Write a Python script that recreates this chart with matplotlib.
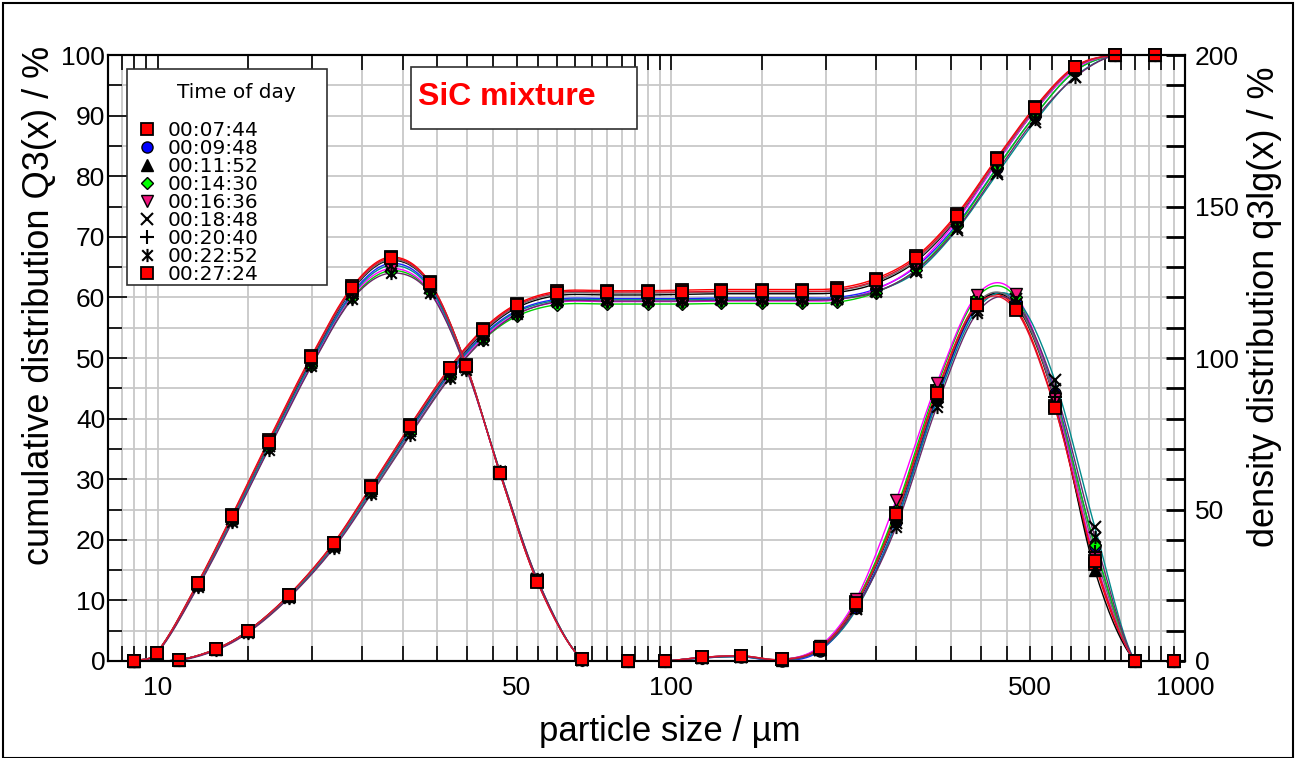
import numpy as np
import matplotlib
matplotlib.use("Agg")
import matplotlib.pyplot as plt
from matplotlib.path import Path
from matplotlib.patches import Rectangle
from matplotlib.lines import Line2D

plt.rcParams['font.family'] = ['Liberation Sans', 'DejaVu Sans']

# ---------------- data ----------------
# class upper limits (cumulative) and class centres (density), µm
x_cum = [9, 11, 13, 15, 18, 22, 26, 31, 37, 43, 50, 60, 75, 90, 105, 125, 150,
         180, 210, 250, 300, 360, 430, 510, 610, 730, 875]
x_dens = [9.0, 9.95, 11.96, 13.96, 16.43, 19.90, 23.92, 28.39, 33.87, 39.89, 46.37,
          54.77, 67.08, 82.16, 97.21, 114.6, 136.9, 164.3, 194.4, 229.1, 273.9,
          328.6, 393.4, 468.3, 557.8, 667.3, 799.2, 953.0]

times = ["00:07:44", "00:09:48", "00:11:52", "00:14:30", "00:16:36",
         "00:18:48", "00:20:40", "00:22:52", "00:27:24"]

Q3_0744 = [0.0, 0.2, 2.0, 5.0, 10.9, 19.5, 28.8, 38.9, 48.4, 54.8, 58.9, 61.0, 61.1, 61.1, 61.2, 61.3, 61.3, 61.3, 61.5, 63.1, 66.8, 73.8, 83.0, 91.4, 98.1, 100.0, 100.0]
Q3_0948 = [0.0, 0.2, 1.9, 4.9, 10.7, 19.1, 28.3, 38.2, 47.6, 53.8, 57.8, 59.7, 59.8, 59.8, 59.8, 59.9, 59.9, 59.9, 60.0, 61.4, 65.1, 72.1, 81.4, 90.0, 97.3, 100.0, 100.0]
Q3_1152 = [0.0, 0.2, 2.0, 5.0, 10.8, 19.3, 28.5, 38.5, 47.9, 54.2, 58.3, 60.3, 60.4, 60.4, 60.5, 60.6, 60.6, 60.6, 60.8, 62.3, 66.0, 73.0, 82.3, 90.8, 97.8, 100.0, 100.0]
Q3_1430 = [0.0, 0.2, 1.9, 4.8, 10.5, 18.8, 27.8, 37.6, 46.9, 53.0, 56.9, 58.8, 58.9, 58.9, 58.9, 59.0, 59.0, 59.0, 59.2, 60.8, 64.6, 71.8, 81.3, 90.0, 97.3, 100.0, 100.0]
Q3_1636 = [0.0, 0.2, 1.9, 4.8, 10.6, 18.9, 28.0, 37.8, 47.2, 53.3, 57.3, 59.2, 59.3, 59.3, 59.3, 59.4, 59.4, 59.4, 59.6, 61.3, 65.3, 72.7, 82.2, 90.8, 97.7, 100.0, 100.0]
Q3_1848 = [0.0, 0.2, 1.9, 4.9, 10.6, 19.0, 28.1, 38.0, 47.4, 53.6, 57.6, 59.5, 59.6, 59.6, 59.6, 59.7, 59.7, 59.7, 59.8, 61.0, 64.2, 71.2, 80.3, 89.0, 96.4, 100.0, 100.0]
Q3_2040 = [0.0, 0.2, 2.0, 5.0, 10.8, 19.3, 28.5, 38.6, 48.0, 54.4, 58.5, 60.6, 60.7, 60.7, 60.8, 60.9, 60.9, 60.9, 61.1, 62.6, 66.2, 73.2, 82.5, 91.0, 97.9, 100.0, 100.0]
Q3_2252 = [0.0, 0.1, 1.8, 4.7, 10.4, 18.6, 27.5, 37.3, 46.7, 53.0, 57.2, 59.3, 59.4, 59.4, 59.4, 59.5, 59.5, 59.5, 59.7, 60.9, 64.5, 71.4, 80.7, 89.4, 96.3, 100.0, 100.0]
Q3_2724 = [0.0, 0.2, 2.0, 5.0, 10.9, 19.4, 28.7, 38.8, 48.3, 54.6, 58.7, 60.8, 60.9, 60.9, 60.9, 61.0, 61.0, 61.0, 61.2, 62.8, 66.5, 73.5, 82.8, 91.2, 98.0, 100.0, 100.0]

q3_0744 = [0, 2.8, 25.8, 48.2, 72.8, 100.6, 123.6, 133.3, 125.0, 97.6, 62.0, 26.3, 0.5, 0.0, 0.0, 1.2, 1.7, 0.5, 4.4, 19.5, 49.0, 89.0, 118.0, 116.5, 84.0, 32.0, 0.0, 0.0]
q3_0948 = [0, 2.6, 25.0, 47.0, 71.2, 98.8, 121.5, 131.2, 123.5, 97.0, 62.2, 26.8, 0.4, 0.0, 0.0, 1.0, 1.4, 0.0, 3.3, 17.5, 46.0, 86.5, 117.0, 118.5, 88.5, 38.0, 0.0, 0.0]
q3_1152 = [0, 2.7, 25.4, 47.5, 71.8, 99.6, 122.5, 132.2, 124.3, 97.4, 62.0, 26.5, 0.5, 0.0, 0.0, 1.2, 1.6, 0.4, 4.0, 18.5, 47.5, 87.5, 117.5, 117.5, 86.0, 30.0, 0.0, 0.0]
q3_1430 = [0, 2.5, 24.6, 46.2, 70.2, 97.5, 119.8, 128.8, 121.8, 96.5, 62.5, 27.0, 0.5, 0.0, 0.0, 1.1, 1.5, 0.5, 4.5, 19.5, 50.0, 90.5, 120.0, 120.0, 87.5, 38.3, 0.0, 0.0]
q3_1636 = [0, 2.6, 24.8, 46.5, 70.6, 98.0, 120.5, 129.5, 122.2, 96.6, 62.2, 26.6, 0.5, 0.0, 0.0, 1.2, 1.6, 0.5, 4.8, 20.5, 53.1, 91.6, 120.8, 121.0, 86.5, 34.0, 0.0, 0.0]
q3_1848 = [0, 2.6, 25.0, 46.8, 71.0, 98.5, 121.0, 130.5, 123.0, 97.0, 62.5, 27.0, 0.4, 0.0, 0.0, 1.0, 1.4, 0.2, 3.6, 17.0, 45.5, 85.5, 116.0, 119.5, 92.7, 44.3, 0.0, 0.0]
q3_2040 = [0, 2.7, 25.5, 47.7, 72.1, 99.9, 122.8, 132.5, 124.5, 97.5, 62.0, 26.4, 0.5, 0.0, 0.0, 1.2, 1.7, 0.5, 4.2, 18.8, 48.0, 88.0, 118.0, 118.0, 87.0, 36.0, 0.0, 0.0]
q3_2252 = [0, 2.4, 24.3, 45.8, 69.8, 97.2, 119.5, 128.0, 121.5, 96.2, 62.6, 27.2, 0.4, 0.0, 0.0, 1.0, 1.5, 0.3, 3.8, 17.5, 44.3, 83.9, 114.8, 118.0, 90.0, 41.0, 0.0, 0.0]
q3_2724 = [0, 2.7, 25.6, 47.9, 72.4, 100.2, 123.2, 132.9, 124.7, 97.4, 61.9, 26.2, 0.5, 0.0, 0.0, 1.2, 1.7, 0.5, 4.2, 19.0, 48.4, 88.5, 117.5, 115.8, 83.6, 33.1, 0.0, 0.0]

Q3_all = [Q3_0744, Q3_0948, Q3_1152, Q3_1430, Q3_1636, Q3_1848, Q3_2040, Q3_2252, Q3_2724]
q3_all = [q3_0744, q3_0948, q3_1152, q3_1430, q3_1636, q3_1848, q3_2040, q3_2252, q3_2724]

# ---------------- styles ----------------
star_path = Path([(-1, -1), (1, 1), (-1, 1), (1, -1), (0, -1.25), (0, 1.25)],
                 [Path.MOVETO, Path.LINETO, Path.MOVETO, Path.LINETO, Path.MOVETO, Path.LINETO])
styles = [
    dict(marker='s', mfc='#ff0000', mec='black', ms=8.0, mew=1.3, line='#ff0000'),
    dict(marker='o', mfc='#0000ff', mec='black', ms=8.0, mew=1.0, line='#2020ff'),
    dict(marker='^', mfc='black', mec='black', ms=8.5, mew=1.0, line='#000000'),
    dict(marker='D', mfc='#00ff00', mec='black', ms=6.5, mew=1.0, line='#00d000'),
    dict(marker='v', mfc='#f0147c', mec='black', ms=8.5, mew=1.0, line='#ff00ff'),
    dict(marker='x', mfc='black', mec='black', ms=9.0, mew=1.5, line='#008b8b'),
    dict(marker='+', mfc='black', mec='black', ms=10.0, mew=1.5, line='#707070'),
    dict(marker=star_path, mfc='black', mec='black', ms=9.5, mew=1.5, line='#6a2a6a'),
    dict(marker='s', mfc='#ff0000', mec='black', ms=8.0, mew=1.3, line='#e0102a'),
]


def smooth(x, y, lo, hi, n=18):
    lx = np.log10(np.asarray(x, float))
    y = np.asarray(y, float)
    m = np.zeros_like(y)
    m[1:-1] = (y[2:] - y[:-2]) / (lx[2:] - lx[:-2])
    m[0] = (y[1] - y[0]) / (lx[1] - lx[0])
    m[-1] = (y[-1] - y[-2]) / (lx[-1] - lx[-2])
    xs, ys = [], []
    t = np.linspace(0, 1, n)
    for i in range(len(lx) - 1):
        h = lx[i + 1] - lx[i]
        h00 = 2 * t**3 - 3 * t**2 + 1
        h10 = t**3 - 2 * t**2 + t
        h01 = -2 * t**3 + 3 * t**2
        h11 = t**3 - t**2
        xs.append(lx[i] + t * h)
        ys.append(h00 * y[i] + h10 * h * m[i] + h01 * y[i + 1] + h11 * h * m[i + 1])
    return 10 ** np.concatenate(xs), np.clip(np.concatenate(ys), lo, hi)


# ---------------- figure ----------------
W, H = 1297, 758
fig = plt.figure(figsize=(W / 100, H / 100), dpi=100)
AX_L, AX_R, AX_T, AX_B = 108, 1185, 55, 661
ax = fig.add_axes([AX_L / W, 1 - AX_B / H, (AX_R - AX_L) / W, (AX_B - AX_T) / H])
ax2 = ax.twinx()

ax.set_xscale('log')
ax.set_xlim(8.0, 1000)
ax.set_ylim(0, 100)
ax2.set_ylim(0, 200)

grid_minor = [8.5, 9, 9.5] + [v for v in range(15, 100, 5) if v != 50] + \
             [v for v in range(150, 1000, 50) if v != 500]
ax.set_xticks([10, 50, 100, 500, 1000])
ax.set_xticklabels(['10', '50', '100', '500', '1000'])
ax.set_xticks(grid_minor, minor=True)
ax.set_xticklabels([], minor=True)
ax.set_yticks(np.arange(0, 101, 10))
ax.set_yticks(np.arange(5, 100, 10), minor=True)
ax2.set_yticks(np.arange(0, 201, 50))
ax2.set_yticks([v for v in range(10, 200, 10) if v % 50], minor=True)

gcol = '#c8c8c8'
ax.grid(True, which='both', axis='both', color=gcol, lw=1.3)
ax.set_axisbelow(True)

TFS = 19
ax.tick_params(axis='x', which='both', direction='in', top=True, length=11, width=1.2,
               labelsize=TFS, pad=11, colors='black')
ax.tick_params(axis='y', which='major', direction='in', length=14, width=1.2, labelsize=TFS, pad=2)
ax.tick_params(axis='y', which='minor', direction='in', length=10, width=1.2)
ax2.tick_params(axis='y', which='major', direction='in', length=14, width=2.0, labelsize=TFS, pad=7)
ax2.tick_params(axis='y', which='minor', direction='in', length=14, width=2.0)
for a in (ax, ax2):
    for s in a.spines.values():
        s.set_linewidth(1.5)
        s.set_color('black')

# lines first
for Q, q, st in zip(Q3_all, q3_all, styles):
    xs, ys = smooth(x_cum, Q, 0, 100)
    ax.plot(xs, ys, color=st['line'], lw=1.0, zorder=2)
    xs, ys = smooth(x_dens, q, 0, 200)
    ax2.plot(xs, ys, color=st['line'], lw=1.0, zorder=2)
# markers
for Q, q, st in zip(Q3_all, q3_all, styles):
    kw = dict(ls='none', marker=st['marker'], mfc=st['mfc'], mec=st['mec'],
              ms=st['ms'], mew=st['mew'], clip_on=False, zorder=3)
    ax.plot(x_cum, Q, **kw)
    ax2.plot(x_dens, q, **kw)

ax.set_xlabel('particle size / µm', fontsize=25)
ax.xaxis.set_label_coords((670 - AX_L) / (AX_R - AX_L), -(731 - AX_B) / (AX_B - AX_T))
ax.xaxis.label.set_va('center')
ax.set_ylabel('cumulative distribution Q3(x) / %', fontsize=26)
ax.yaxis.set_label_coords(-(AX_L - 40) / (AX_R - AX_L), (AX_B - 305) / (AX_B - AX_T))
ax.yaxis.label.set_va('center')
ax2.set_ylabel('density distribution q3lg(x) / %', fontsize=26, rotation=90)
ax2.yaxis.set_label_coords((1264 - AX_L) / (AX_R - AX_L), (AX_B - 307) / (AX_B - AX_T))
ax2.yaxis.label.set_va('center')


def P(x, y):
    return x / W, 1 - y / H


# legend box
lx0, ly0, lx1, ly1 = 127, 69, 327, 285
fig.add_artist(Rectangle(P(lx0, ly1), (lx1 - lx0) / W, (ly1 - ly0) / H,
                         transform=fig.transFigure, facecolor='white',
                         edgecolor='#303030', lw=1.2, zorder=10))
LFS = 14.5
fig.text(*P(236, 92), 'Time of day', fontsize=LFS, family='DejaVu Sans',
         ha='center', va='center', zorder=11)
for i, (t, st) in enumerate(zip(times, styles)):
    yy = 129 + 18 * i
    fig.add_artist(Line2D([146.5 / W], [1 - yy / H], transform=fig.transFigure,
                          ls='none', marker=st['marker'], mfc=st['mfc'], mec=st['mec'],
                          ms=st['ms'], mew=st['mew'], zorder=11))
    fig.text(*P(168, yy + 1), t, fontsize=LFS, family='DejaVu Sans',
             ha='left', va='center', zorder=11)

# title box
tx0, ty0, tx1, ty1 = 411, 67, 637, 129
fig.add_artist(Rectangle(P(tx0, ty1), (tx1 - tx0) / W, (ty1 - ty0) / H,
                         transform=fig.transFigure, facecolor='white',
                         edgecolor='#303030', lw=1.2, zorder=10))
fig.text(*P(418, 97), 'SiC mixture', fontsize=23, fontweight='bold', color='#ff0000',
         ha='left', va='center', zorder=11)

# outer frame
fig.add_artist(Rectangle((2.5 / W, 0), (1293 - 2.5) / W, 1 - 2.5 / H,
                         transform=fig.transFigure, fill=False, edgecolor='black',
                         lw=1.5, zorder=12))

fig.savefig('out.png', dpi=100)
